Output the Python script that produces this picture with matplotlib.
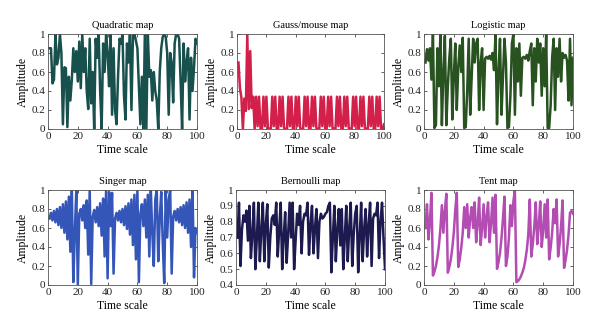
import matplotlib
matplotlib.use('Agg')
import matplotlib.pyplot as plt
import numpy as np

plt.rcParams['font.family'] = ['Liberation Serif', 'DejaVu Serif']
plt.rcParams['font.size'] = 7

t = np.arange(1, 101)

quadratic = [0.85, 0.85, 0.48, 0.52, 1.00, 0.68, 0.75, 1.00, 0.80, 0.05,
             0.65, 0.64, 0.02, 0.55, 0.30, 0.52, 0.85, 0.60, 0.82, 0.50,
             0.92, 0.43, 1.00, 0.60, 0.85, 0.40, 0.21, 0.95, 0.27, 0.60,
             0.00, 0.95, 0.75, 1.00, 0.40, 0.00, 0.90, 0.60, 1.00, 0.80,
             0.45, 1.00, 0.15, 0.85, 0.20, 0.05, 0.55, 0.95, 0.90, 1.00,
             0.35, 0.10, 0.90, 0.70, 1.00, 0.20, 0.98, 1.00, 0.93, 0.85,
             0.45, 0.05, 0.55, 0.00, 1.00, 0.00, 1.00, 0.55, 0.62, 0.30,
             0.60, 0.40, 0.30, 0.00, 0.60, 0.85, 0.97, 1.00, 0.97, 0.80,
             0.15, 0.80, 0.70, 0.28, 0.90, 1.00, 1.00, 0.95, 0.50, 0.00,
             0.90, 0.50, 0.70, 0.85, 0.10, 0.75, 0.40, 0.65, 0.95, 0.90]

gauss = [0.70, 0.43, 0.33, 0.00, 0.32, 0.19, 1.00, 0.21, 0.82, 0.22,
         0.34, 0.00, 0.34, 0.03, 0.34, 0.00, 0.00, 0.34, 0.03, 0.34,
         0.01, 0.00, 0.00, 0.34, 0.03, 0.34, 0.00, 0.00, 0.34, 0.03,
         0.34, 0.01, 0.00, 0.00, 0.34, 0.03, 0.34, 0.00, 0.00, 0.34,
         0.03, 0.34, 0.01, 0.00, 0.00, 0.34, 0.03, 0.34, 0.00, 0.00,
         0.34, 0.03, 0.34, 0.01, 0.00, 0.00, 0.34, 0.03, 0.34, 0.00,
         0.00, 0.34, 0.03, 0.34, 0.01, 0.00, 0.00, 0.34, 0.03, 0.34,
         0.00, 0.00, 0.34, 0.03, 0.34, 0.01, 0.00, 0.00, 0.34, 0.03,
         0.34, 0.00, 0.00, 0.34, 0.03, 0.34, 0.01, 0.00, 0.00, 0.34,
         0.03, 0.34, 0.00, 0.00, 0.34, 0.03, 0.34, 0.00, 0.00, 0.05]

logistic = [0.70, 0.84, 0.72, 0.85, 0.52, 1.00, 0.01, 0.04, 0.85, 0.45,
            1.00, 0.04, 0.60, 0.98, 0.04, 0.45, 0.75, 0.95, 0.10, 0.55,
            0.90, 0.20, 0.65, 0.88, 0.60, 0.96, 0.01, 0.02, 0.40, 0.95,
            0.15, 0.55, 0.95, 0.70, 0.90, 0.95, 0.20, 0.70, 0.85, 0.20,
            0.74, 0.76, 0.74, 0.77, 0.73, 0.80, 0.62, 1.00, 0.05, 0.60,
            0.95, 0.15, 0.55, 0.95, 0.70, 0.01, 0.02, 0.35, 0.90, 1.00,
            0.15, 0.85, 0.50, 0.90, 0.35, 0.75, 0.76, 0.74, 0.78, 0.72,
            0.82, 0.90, 0.25, 0.85, 0.50, 0.95, 0.70, 0.90, 0.35, 0.85,
            0.45, 1.00, 0.01, 0.01, 0.25, 0.75, 0.95, 0.20, 0.85, 0.55,
            0.95, 0.50, 0.80, 0.75, 0.78, 0.72, 0.30, 0.95, 0.25, 0.75]

singer = [0.70, 0.76, 0.68, 0.78, 0.66, 0.80, 0.63, 0.82, 0.60, 0.85,
          0.55, 0.88, 0.48, 0.93, 0.35, 1.00, 0.03, 0.55, 1.00, 0.00,
          0.75, 0.80, 0.68, 0.84, 0.60, 0.89, 0.32, 1.00, 0.01, 0.72,
          0.79, 0.66, 0.82, 0.62, 0.86, 0.52, 0.91, 0.30, 1.00, 0.07,
          0.98, 0.62, 0.97, 0.12, 0.70, 0.76, 0.68, 0.78, 0.66, 0.80,
          0.63, 0.83, 0.59, 0.86, 0.53, 0.90, 0.42, 0.95, 0.27, 1.00,
          0.03, 0.75, 0.85, 0.62, 0.90, 0.50, 0.95, 0.30, 1.00, 0.55,
          0.20, 0.90, 1.00, 0.25, 0.70, 0.98, 0.45, 0.02, 1.00, 0.50,
          0.90, 1.00, 0.12, 0.72, 0.78, 0.68, 0.80, 0.66, 0.82, 0.63,
          0.84, 0.60, 0.87, 0.55, 0.90, 0.40, 1.00, 0.08, 0.60, 0.55]

bernoulli = [0.70, 0.92, 0.52, 0.75, 0.84, 0.80, 0.87, 0.68, 0.90, 0.57,
             0.72, 0.92, 0.50, 0.70, 0.92, 0.55, 0.75, 0.92, 0.55, 0.78,
             0.91, 0.51, 0.70, 0.82, 0.84, 0.78, 0.92, 0.58, 0.75, 0.92,
             0.50, 0.70, 0.86, 0.54, 0.72, 0.92, 0.70, 0.92, 0.50, 0.68,
             0.85, 0.78, 0.90, 0.60, 0.80, 0.85, 0.84, 0.92, 0.59, 0.78,
             0.90, 0.60, 0.76, 0.88, 0.57, 0.80, 0.85, 0.82, 0.83, 0.85,
             0.86, 0.90, 0.92, 0.48, 0.70, 0.90, 0.55, 0.75, 0.88, 0.65,
             0.88, 0.50, 0.70, 0.90, 0.55, 0.76, 0.92, 0.52, 0.72, 0.85,
             0.90, 0.48, 0.70, 0.92, 0.55, 0.75, 0.88, 0.58, 0.78, 0.92,
             0.52, 0.82, 0.85, 0.84, 0.92, 0.57, 0.80, 0.92, 0.70, 0.50]

tent = [0.60, 0.85, 0.48, 0.68, 0.97, 0.10, 0.14, 0.20, 0.29, 0.41,
        0.59, 0.84, 0.55, 0.78, 0.96, 0.13, 0.19, 0.27, 0.39, 0.55,
        0.79, 0.97, 0.19, 0.27, 0.39, 0.55, 0.82, 0.60, 0.85, 0.50,
        0.71, 0.82, 0.60, 0.87, 0.45, 0.65, 0.92, 0.42, 0.60, 0.85,
        0.50, 0.72, 0.87, 0.45, 0.65, 0.92, 0.55, 0.95, 0.17, 0.24,
        0.34, 0.49, 0.70, 0.93, 0.20, 0.30, 0.50, 0.84, 0.62, 0.88,
        1.00, 0.03, 0.04, 0.06, 0.09, 0.13, 0.18, 0.26, 0.37, 0.53,
        0.90, 0.30, 0.43, 0.61, 0.87, 0.43, 0.62, 0.88, 0.40, 0.58,
        0.85, 0.50, 0.90, 0.27, 0.39, 0.55, 0.80, 0.65, 0.90, 0.30,
        0.43, 0.62, 0.89, 0.18, 0.26, 0.37, 0.53, 0.76, 0.78, 0.75]

titles = ['Quadratic map', 'Gauss/mouse map', 'Logistic map',
          'Singer map', 'Bernoulli map', 'Tent map']
series = [quadratic, gauss, logistic, singer, bernoulli, tent]
colors = ['#17504d', '#d2204b', '#28521f', '#3556b9', '#1d1a4f', '#b34cb3']

# axes boxes in pixels: left, right, top, bottom
W, H = 600, 332
boxes = [(48, 197, 34, 129), (237, 384, 34, 129), (424, 573, 34, 129),
         (48, 197, 190, 285), (236, 385, 190, 285), (424, 573, 190, 285)]

fig = plt.figure(figsize=(6, 3.32), dpi=100)

for i in range(6):
    l, r, tp, b = boxes[i]
    ax = fig.add_axes([l / W, 1 - b / H, (r - l) / W, (b - tp) / H])
    ax.plot(t, series[i], color=colors[i], lw=1.8)
    ax.set_xlim(0, 100)
    ax.set_xticks([0, 20, 40, 60, 80, 100])
    if titles[i] == 'Bernoulli map':
        ax.set_ylim(0.4, 1)
        yt = [0.4, 0.5, 0.6, 0.7, 0.8, 0.9, 1.0]
    else:
        ax.set_ylim(0, 1)
        yt = [0, 0.2, 0.4, 0.6, 0.8, 1.0]
    ax.set_yticks(yt)
    ax.set_yticklabels(['%g' % v for v in yt])
    ax.tick_params(direction='in', length=2, width=0.5, top=True, right=True,
                   labelsize=8, pad=2, colors='#222222')
    for s in ax.spines.values():
        s.set_linewidth(0.6)
        s.set_color('#555555')
    ax.set_title(titles[i], fontsize=7.5, pad=4)
    ax.set_xlabel('Time scale', fontsize=8.5, labelpad=2)
    ax.set_ylabel('Amplitude', fontsize=8.5, labelpad=2)

fig.savefig('out.png', dpi=100)
